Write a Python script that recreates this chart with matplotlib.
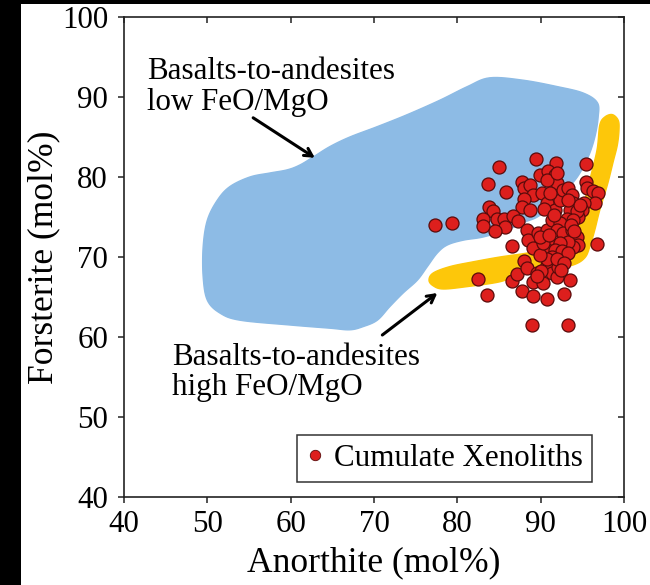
import matplotlib
matplotlib.use("Agg")
import numpy as np
import matplotlib.pyplot as plt
from matplotlib.patches import Polygon, Rectangle
from matplotlib.lines import Line2D

# ---------------- data ----------------
anorthite = [77.3, 79.4, 85.0, 83.7, 85.8, 89.4, 95.4, 91.8, 89.9, 90.9, 91.7, 91.9, 90.7,
             87.7, 88.0, 88.7, 89.1, 88.0, 87.8, 88.7,
             83.8, 84.3, 83.1, 83.1, 84.7, 85.6, 85.7, 86.7, 87.3, 84.5,
             86.6, 88.4, 88.5, 89.1, 89.7, 90.2, 90.7,
             95.4, 95.5, 96.3, 96.9, 96.5, 95.2, 94.9, 94.5, 96.8,
             82.5, 83.6, 87.7, 89.1, 90.8, 92.8, 93.5, 89.0, 93.3,
             86.5, 87.1, 88.0, 88.3, 89.1, 89.5, 90.3, 90.7, 91.3, 91.9, 92.1, 92.7, 92.2,
             90.7, 90.9, 90.7, 91.3, 91.7, 92.3, 92.7, 93.3, 93.7, 93.9, 93.5, 94.3, 94.7,
             93.1, 93.9, 92.3, 91.9, 92.7, 93.7, 94.3, 94.5, 93.9, 93.3, 92.3, 91.7, 92.5,
             93.3, 91.3, 90.7, 89.9, 90.3, 89.9, 91.9, 91.1, 93.3,
             90.0, 91.0, 92.0, 92.8, 93.6, 90.4, 91.6, 92.4, 89.6, 94.0]
forsterite = [74.0, 74.3, 81.3, 79.1, 78.1, 82.3, 81.6, 81.7, 80.3, 80.7, 80.3, 79.2, 79.6,
              79.4, 78.6, 79.0, 77.8, 77.3, 76.3, 75.9,
              76.2, 75.7, 74.8, 73.9, 74.8, 74.7, 73.8, 75.1, 74.5, 73.2,
              71.4, 73.4, 72.1, 71.1, 73.0, 78.0, 76.7,
              79.4, 78.6, 78.2, 78.0, 76.7, 76.8, 75.9, 75.0, 71.6,
              67.2, 65.2, 65.8, 65.1, 64.7, 65.4, 67.1, 61.5, 61.5,
              67.0, 67.9, 69.5, 68.6, 66.9, 68.0, 66.7, 69.0, 68.0, 67.5, 68.8, 69.4, 70.0,
              73.4, 72.1, 70.9, 74.6, 75.9, 77.1, 78.4, 78.6, 77.8, 76.7, 75.9, 75.7, 76.5,
              74.8, 74.6, 74.2, 73.4, 73.0, 73.4, 72.5, 71.5, 71.3, 71.9, 71.7, 70.9, 70.7,
              70.5, 70.0, 69.8, 70.3, 71.7, 72.5, 80.5, 78.0, 77.1,
              68.2, 72.8, 69.8, 69.2, 74.0, 76.0, 75.2, 68.4, 67.6, 73.2]

low_feo_an = [83.9, 87.9, 92.0, 95.1, 96.8, 96.9, 96.5, 95.7, 94.4, 92.7, 91.1, 89.6, 87.9,
              86.0, 83.1, 80.7, 78.8, 77.6, 76.4, 75.2, 73.5, 71.9, 70.4, 68.7, 67.1, 64.7,
              59.9, 53.9, 51.5, 50.0, 49.5, 49.5, 50.0, 51.2, 52.7, 55.1, 57.5, 59.6, 61.1,
              62.7, 64.7, 67.1, 70.4, 74.0, 77.9, 81.2]
low_feo_fo = [92.4, 92.1, 91.3, 90.5, 89.3, 87.5, 85.0, 82.5, 80.0, 78.0, 76.3, 75.0, 74.3,
              73.4, 72.5, 72.1, 71.5, 70.5, 68.8, 67.1, 65.5, 63.8, 62.1, 61.3, 60.9, 61.1,
              61.5, 62.1, 63.0, 64.6, 67.5, 71.3, 74.6, 77.1, 78.8, 80.0, 80.5, 80.9, 81.5,
              82.5, 83.8, 85.0, 86.3, 87.8, 89.6, 91.3]

high_feo_an = [97.1, 97.7, 98.6, 99.3, 99.4, 99.2, 98.7, 98.0, 97.1, 96.5, 95.9, 95.3, 93.9,
               91.1, 87.5, 85.1, 81.2, 78.3, 77.1, 76.6, 77.1, 79.1, 81.9, 85.1, 88.4, 90.8,
               92.7, 93.9, 95.0, 95.6, 96.2, 96.8]
high_feo_fo = [86.5, 87.5, 87.8, 87.1, 85.9, 84.0, 81.9, 79.0, 75.9, 73.4, 71.3, 69.9, 69.0,
               68.4, 67.8, 66.9, 66.3, 66.0, 66.4, 67.1, 68.0, 68.8, 69.4, 70.0, 70.5, 71.1,
               72.1, 73.8, 75.9, 78.4, 80.9, 83.6]

label_low = ["Basalts-to-andesites", "low FeO/MgO"]
label_high = ["Basalts-to-andesites", "high FeO/MgO"]
legend_label = "Cumulate Xenoliths"
x_ticks = [40, 50, 60, 70, 80, 90, 100]
y_ticks = [40, 50, 60, 70, 80, 90, 100]


def smooth_outline(xs, ys, n=8):
    """Closed Catmull-Rom curve through the outline vertices (drawing only)."""
    p = np.column_stack([xs, ys])
    m = len(p)
    out = []
    for i in range(m):
        p0, p1, p2, p3 = p[(i - 1) % m], p[i], p[(i + 1) % m], p[(i + 2) % m]
        for t in np.linspace(0, 1, n, endpoint=False):
            t2, t3 = t * t, t * t * t
            out.append(0.5 * ((2 * p1) + (-p0 + p2) * t
                              + (2 * p0 - 5 * p1 + 4 * p2 - p3) * t2
                              + (-p0 + 3 * p1 - 3 * p2 + p3) * t3))
    return np.array(out)


# ---------------- figure ----------------
plt.rcParams['font.family'] = ['Liberation Serif', 'DejaVu Serif']

fig = plt.figure(figsize=(6.5, 5.85), dpi=100, facecolor='black')
fig.add_artist(Rectangle((21 / 650, 0), 1, 1 - 4 / 585, transform=fig.transFigure,
                         facecolor='white', edgecolor='none', zorder=-10))

ax = fig.add_axes([124 / 650, 1 - 497 / 585, 500 / 650, 480 / 585])
ax.set_xlim(40, 100)
ax.set_ylim(40, 100)

BLUE = '#8dbbe5'
YELLOW = '#fdc70a'

ax.add_patch(Polygon(smooth_outline(low_feo_an, low_feo_fo), closed=True, facecolor=BLUE,
                     edgecolor=BLUE, lw=1, zorder=1))
ax.add_patch(Polygon(smooth_outline(high_feo_an, high_feo_fo), closed=True, facecolor=YELLOW,
                     edgecolor=YELLOW, lw=1, zorder=2))

ax.scatter(anorthite, forsterite, s=88, c='#dd1f1d', edgecolors='#5a0b0b',
           linewidths=0.9, zorder=3)

fs = 22.3
ax.text(42.76, 92.25, label_low[0], fontsize=fs, va='baseline', ha='left')
ax.text(42.76, 88.4, label_low[1], fontsize=fs, va='baseline', ha='left')
ax.text(45.76, 56.5, label_high[0], fontsize=fs, va='baseline', ha='left')
ax.text(45.76, 52.75, label_high[1], fontsize=fs, va='baseline', ha='left')

arrow = dict(arrowstyle='->,head_length=0.55,head_width=0.3', color='black', lw=2.2,
             shrinkA=0, shrinkB=0)
ax.annotate('', xy=(62.9, 82.4), xytext=(55.5, 87.4), arrowprops=arrow, zorder=4)
ax.annotate('', xy=(77.6, 65.5), xytext=(71.0, 60.25), arrowprops=arrow, zorder=4)

ax.set_xticks(x_ticks)
ax.set_yticks(y_ticks)
for side in ['left', 'bottom', 'right', 'top']:
    ax.spines[side].set_linewidth(1.2)
    ax.spines[side].set_color('#222222')
ax.tick_params(axis='both', which='major', labelsize=fs, length=4.5, width=1.1,
               color='#222222', direction='out', pad=7)
ax.tick_params(axis='x', pad=5)
axr = ax.secondary_yaxis('right')
axr.set_yticks(y_ticks)
axr.tick_params(direction='in', length=4.5, width=1.1, labelright=False, color='#222222')
axr.spines['right'].set_visible(False)
axt = ax.secondary_xaxis('top')
axt.set_xticks(x_ticks)
axt.tick_params(direction='in', length=4.5, width=1.1, labeltop=False, color='#222222')
axt.spines['top'].set_visible(False)

ax.set_xlabel('Anorthite (mol%)', fontsize=25.6, labelpad=5)
ax.set_ylabel('Forsterite (mol%)', fontsize=25.6)
ax.yaxis.set_label_coords(-0.128, 0.5)

handle = Line2D([], [], marker='o', linestyle='none', markersize=7.5,
                markerfacecolor='#dd1f1d', markeredgecolor='#5a0b0b', markeredgewidth=0.6)
leg = ax.legend([handle], [legend_label], loc='lower right',
                bbox_to_anchor=(0.936, 0.031), fontsize=fs, frameon=True,
                fancybox=False, edgecolor='#333333', framealpha=1,
                handlelength=0.6, handletextpad=0.3, borderpad=0.3,
                borderaxespad=0)
leg.get_frame().set_linewidth(1.1)

fig.savefig('out.png', dpi=100, facecolor='black')
